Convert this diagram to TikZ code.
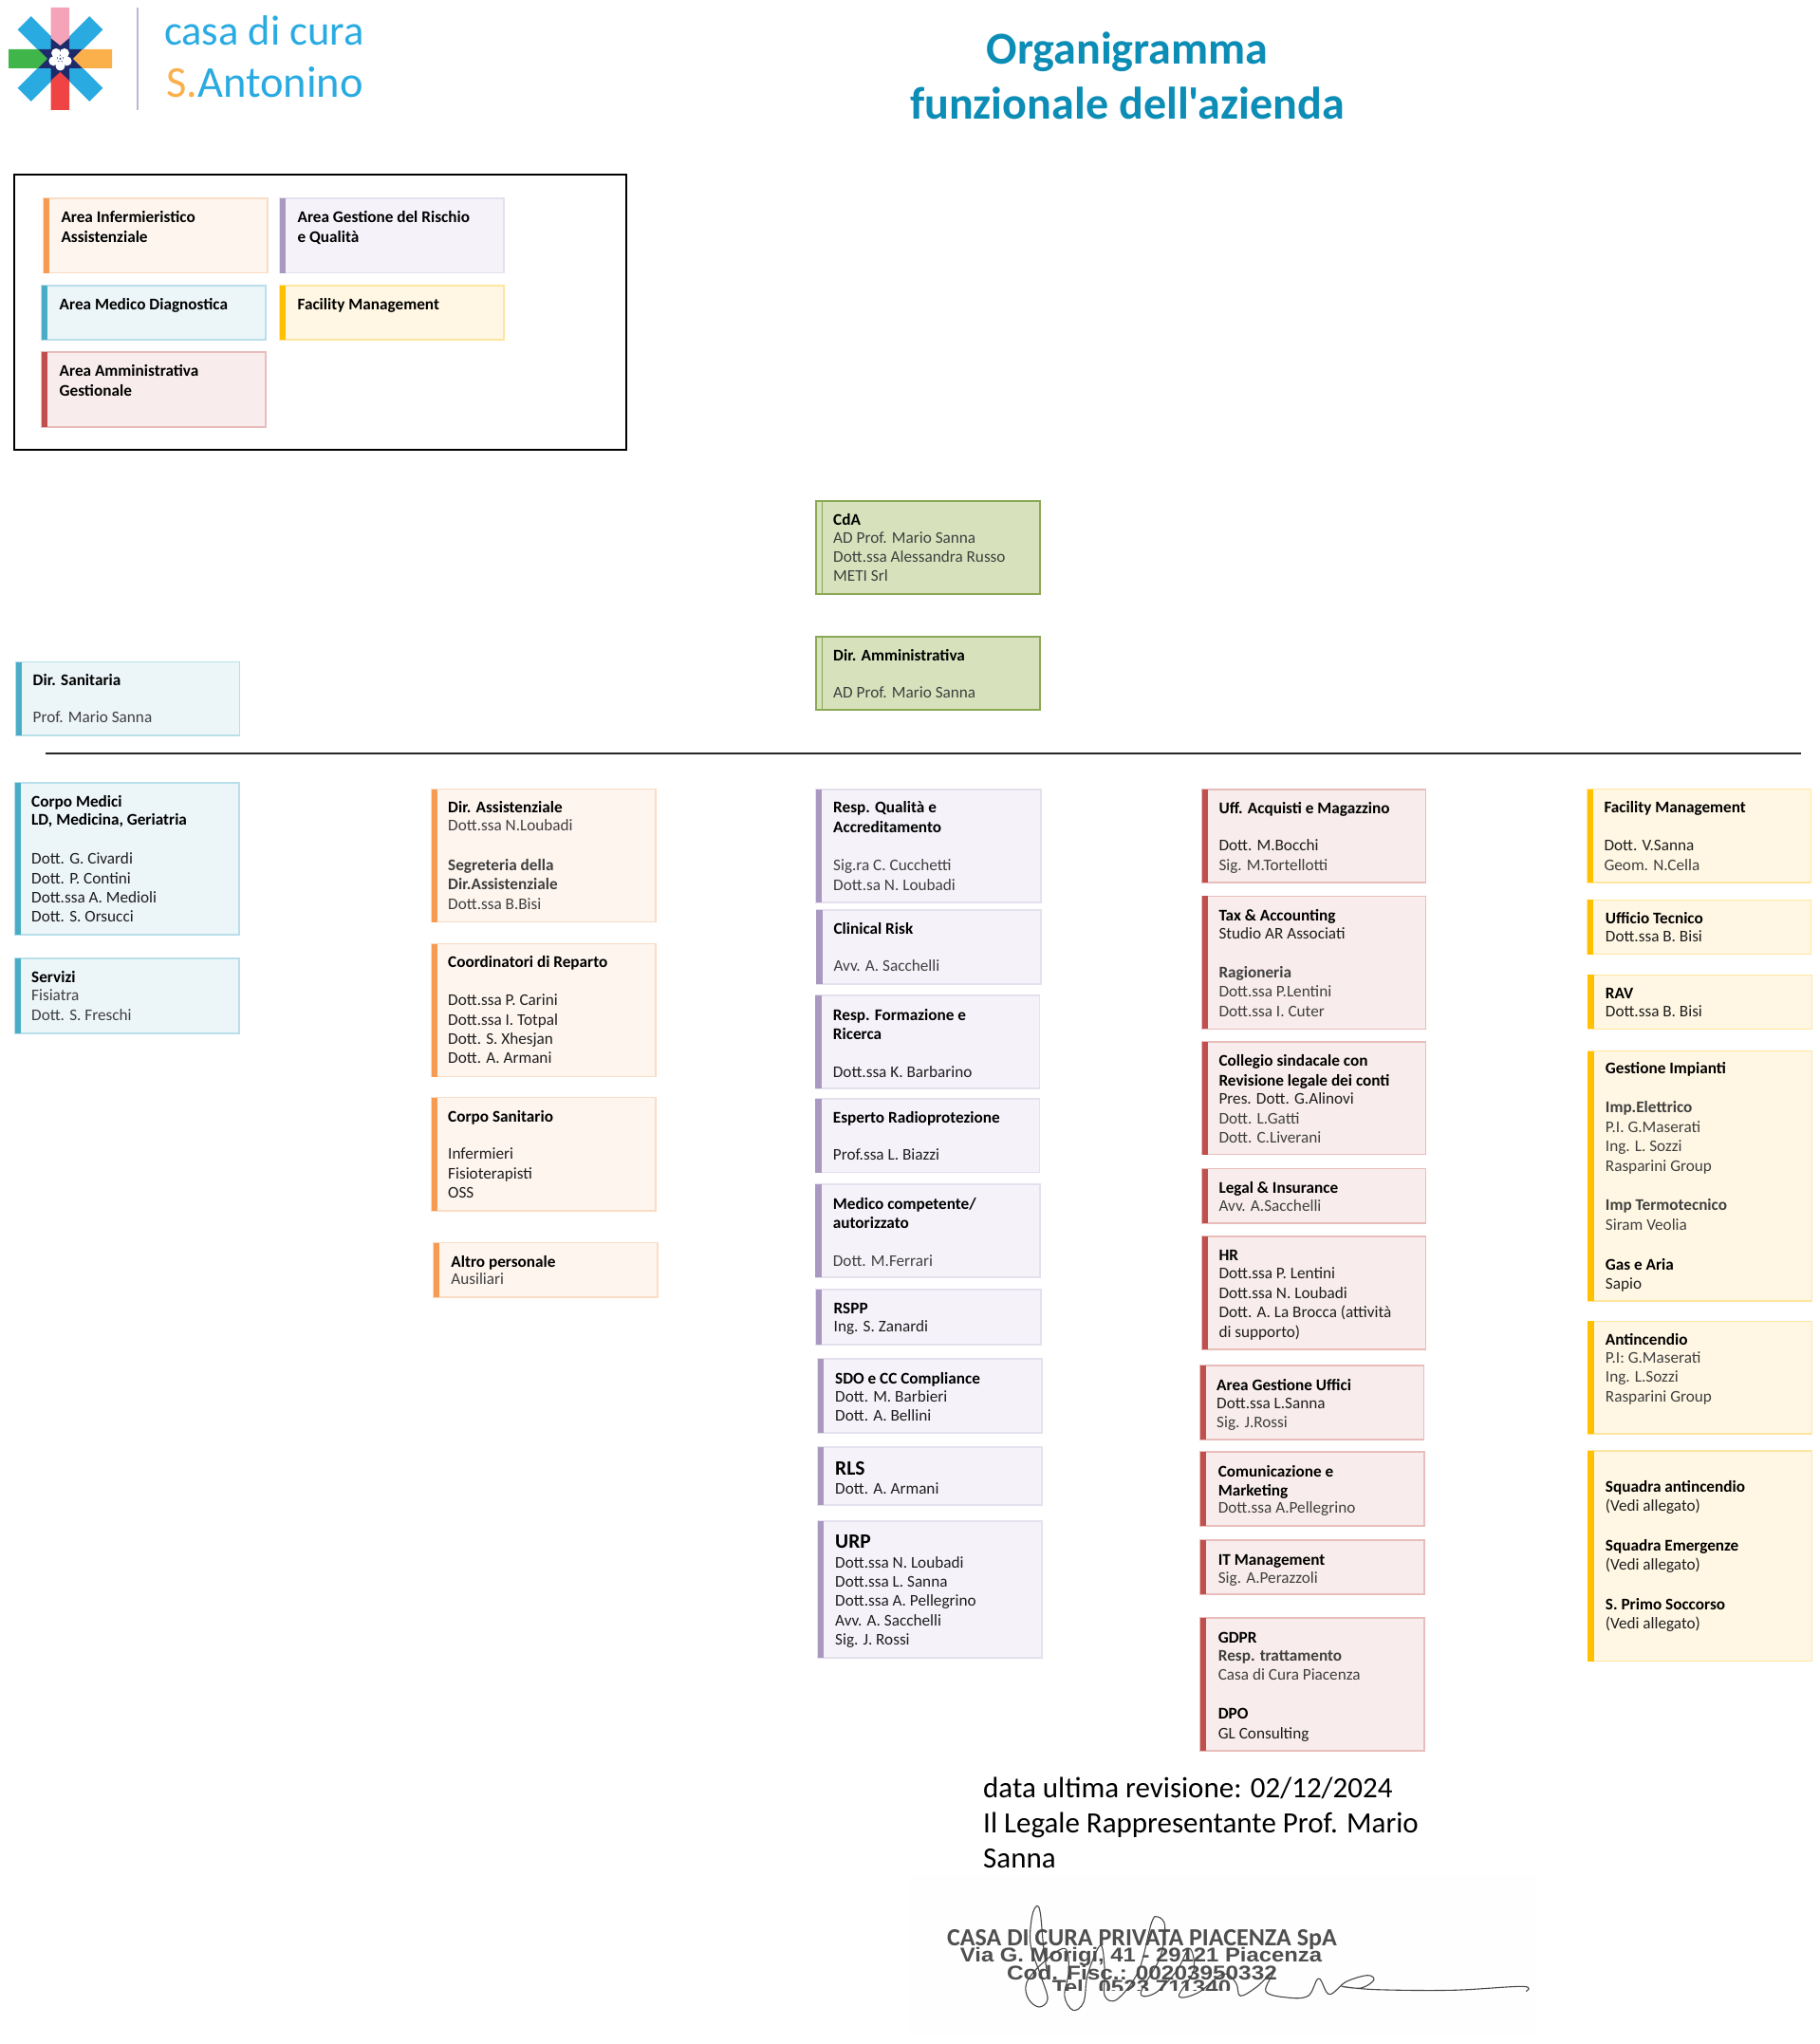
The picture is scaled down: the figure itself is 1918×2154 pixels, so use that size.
\documentclass[tikz,border=0pt]{standalone}
\usepackage{graphicx}
\usepackage{fontspec}
\setmainfont{Carlito}
\newfontfamily\titlefont{Carlito}
\usetikzlibrary{fit}
\definecolor{bluefill}{HTML}{ECF5F8}\definecolor{blueedge}{HTML}{B9DFEA}\definecolor{bluebar}{HTML}{4BACC6}
\definecolor{orangefill}{HTML}{FDF5EE}\definecolor{orangeedge}{HTML}{FBDCC4}\definecolor{orangebar}{HTML}{F79B52}
\definecolor{purplefill}{HTML}{F5F3F9}\definecolor{purpleedge}{HTML}{E5E0EE}\definecolor{purplebar}{HTML}{A999C1}
\definecolor{redfill}{HTML}{F8ECEC}\definecolor{rededge}{HTML}{E8BDBB}\definecolor{redbar}{HTML}{C0504D}
\definecolor{yellowfill}{HTML}{FFF7E3}\definecolor{yellowedge}{HTML}{FFE69E}\definecolor{yellowbar}{HTML}{FFC000}
\definecolor{greenfill}{HTML}{D7E2BC}\definecolor{greenedge}{HTML}{8BA855}
\definecolor{titleblue}{HTML}{0C8DB6}\definecolor{logoblue}{HTML}{29ABE2}\definecolor{logoorange}{HTML}{FBB04C}
\definecolor{logopink}{HTML}{F4A3B8}\definecolor{logored}{HTML}{F04343}\definecolor{logogreen}{HTML}{3FB54A}
\definecolor{logonavy}{HTML}{1F2A6B}\definecolor{logoline}{HTML}{B9B9D2}
\definecolor{bodygray}{HTML}{404040}\definecolor{bodydark}{HTML}{1E1E1E}\definecolor{stampgray}{HTML}{4F4F4F}\definecolor{stampbg}{HTML}{FEFEFE}
\newcommand\B[1]{\textbf{\textcolor{black}{#1}}}
\newcommand\BG[1]{\textbf{\textcolor{bodygray}{#1}}}
\newcommand\D[1]{\textcolor{bodydark}{#1}}
\newcommand\BIG[1]{{\fontsize{21.5}{20.4}\selectfont\textbf{\textcolor{black}{#1}}}}
\tikzset{
  bluebx/.style={draw=blueedge,fill=bluefill,line width=1.4pt},
  orangebx/.style={draw=orangeedge,fill=orangefill,line width=1.4pt},
  purplebx/.style={draw=purpleedge,fill=purplefill,line width=1.4pt},
  redbx/.style={draw=rededge,fill=redfill,line width=1.4pt},
  yellowbx/.style={draw=yellowedge,fill=yellowfill,line width=1.4pt},
  greenbx/.style={draw=greenedge,fill=greenfill,line width=1.4pt},
  bluebr/.style={fill=bluebar},orangebr/.style={fill=orangebar},purplebr/.style={fill=purplebar},
  redbr/.style={fill=redbar},yellowbr/.style={fill=yellowbar},
  greenbr/.style={fill=greenfill,draw=greenedge,line width=1.4pt},
  orgtext/.style={anchor=north west,inner sep=0pt,yshift=8.1pt,align=left,font=\fontsize{17.2}{20.4}\selectfont,text=bodygray},
  stampline/.style={inner sep=0pt,text=stampgray},
  sig/.style={draw=black!72,line width=1.1pt,line join=round,line cap=round},
}
\newcommand\orgbox[6]{%
  \coordinate (#1a) at (#3);\coordinate (#1b) at (#4);
  \node[fit=(#1a)(#1b),inner sep=0pt,outer sep=0pt,#2bx] (#1) {};
  \path[#2br] (#1.north west) rectangle ([xshift=6.3pt]#1.south west);
  \node[orgtext] (#1t) at (#5) {\rule{0pt}{14pt}#6};
}
\begin{document}
\begin{tikzpicture}[x=1pt,y=-1pt]
\useasboundingbox (0,0) rectangle (1918,2154);
\fill[white] (0,0) rectangle (1918,2154);
% logo
\begin{scope}
\foreach \a in {45,135,225,315}{\fill[logoblue,rotate around={\a:(63.5,62)}] (63.5,52) rectangle (117,72);}
\fill[logonavy] (53.5,38)--(73,38)--(73,52)--(87,52)--(87,72)--(73,72)--(73,87)--(53.5,87)--(53.5,72)--(40,72)--(40,52)--(53.5,52)--cycle;
\fill[logopink] (53.5,8)--(73,8)--(73,40)--(63.5,48)--(53.5,40)--cycle;
\fill[logored] (53.5,116)--(73,116)--(73,85)--(63.5,76)--(53.5,85)--cycle;
\fill[logogreen] (9,52)--(40,52)--(50,62)--(40,72)--(9,72)--cycle;
\fill[logoorange] (118,52)--(87,52)--(77,62)--(87,72)--(118,72)--cycle;
\foreach \a in {90,162,234,306,18}{\fill[white] (63.5,62)++(\a:7.5) circle (5);}
\fill[white] (63.5,62) circle (3);
\fill[logonavy] (63.5,62) circle (1);
\draw[logoline,line width=1.5pt] (145,8)--(145,116);
\end{scope}
\node[anchor=base west,inner sep=0pt,text=logoblue,font=\fontsize{44.5}{44.5}\selectfont] (logoa) at (173,47.5) {casa di cura};
\node[anchor=base west,inner sep=0pt,text=logoblue,font=\fontsize{46.5}{46.5}\selectfont] (logob) at (175,102.5) {\textcolor{logoorange}{S.}Antonino};
% title
\node[anchor=north,inner sep=0pt,align=center,text=titleblue,font=\titlefont\bfseries\fontsize{48.1}{58}\selectfont] (title) at (1188,31.5) {\rule{0pt}{36pt}Organigramma\\funzionale dell'azienda};
% legend
\coordinate (lega) at (15,184);\coordinate (legb) at (660,474);
\node[fit=(lega)(legb),inner sep=0pt,outer sep=0pt,draw=black,line width=1.2pt] (legend) {};
\orgbox{la}{orange}{46,209}{282,287.5}{64.3,228.7}{\B{Area Infermieristico}\\\B{Assistenziale}}
\orgbox{lb}{purple}{295,209}{531,287.5}{313.4,228.7}{\B{Area Gestione del Rischio}\\\B{e Qualità}}
\orgbox{lc}{blue}{44,301}{280,358}{62.5,320.7}{\B{Area Medico Diagnostica}}
\orgbox{ld}{yellow}{295,301}{531,358}{313.4,320.7}{\B{Facility Management}}
\orgbox{le}{red}{44,371}{280,450}{62.5,390.7}{\B{Area Amministrativa}\\\B{Gestionale}}
% top boxes
\orgbox{cda}{green}{860,528}{1096,626}{878,547}{\B{CdA}\\[-1.5pt]AD Prof. Mario Sanna\\Dott.ssa Alessandra Russo\\METI Srl}
\orgbox{dam}{green}{860,671}{1096,748}{878,690}{\B{Dir. Amministrativa}\\~\\[-1.8pt]AD Prof. Mario Sanna}
\orgbox{dsa}{blue}{16.5,697.5}{252.5,775}{34.5,716.3}{\B{Dir. Sanitaria}\\~\\[-1.8pt]Prof. Mario Sanna}
\coordinate (rulea) at (48,794);\coordinate (ruleb) at (1898,794);
\draw[draw=black!85,line width=1.1pt] (rulea)--(ruleb);
% column 1
\orgbox{cm}{blue}{15.5,825}{252,985}{33,844.4}{\B{Corpo Medici}\\[-1pt]\B{LD, Medicina, Geriatria}\\~\\\D{Dott. G. Civardi}\\\D{Dott. P. Contini}\\\D{Dott.ssa A. Medioli}\\\D{Dott. S. Orsucci}}
\orgbox{se}{blue}{15.5,1010}{252,1089}{33,1029.4}{\B{Servizi}\\[-1pt]Fisiatra\\Dott. S. Freschi}
% column 2
\orgbox{da}{orange}{455,831.5}{691,971.5}{472,850.3}{\B{Dir. Assistenziale}\\[-1pt]Dott.ssa N.Loubadi\\~\\[0.6pt]\BG{Segreteria della}\\\BG{Dir.Assistenziale}\\Dott.ssa B.Bisi}
\orgbox{co}{orange}{455,994.5}{691,1134.5}{472,1013.8}{\B{Coordinatori di Reparto}\\~\\[-1pt]\D{Dott.ssa P. Carini}\\\D{Dott.ssa I. Totpal}\\\D{Dott. S. Xhesjan}\\\D{Dott. A. Armani}}
\orgbox{cs}{orange}{455,1156.6}{691,1276}{472,1175.9}{\B{Corpo Sanitario}\\~\\[-1pt]\D{Infermieri}\\\D{Fisioterapisti}\\\D{OSS}}
\orgbox{ap}{orange}{457,1309.5}{693,1367}{475.2,1329.2}{\B{Altro personale}\\[-2pt]Ausiliari}
% column 3
\orgbox{rq}{purple}{860,832}{1097,951}{878,850.7}{\B{Resp. Qualità e}\\[0.6pt]\B{Accreditamento}\\~\\[-1pt]Sig.ra C. Cucchetti\\Dott.sa N. Loubadi}
\orgbox{cr}{purple}{860.3,959}{1097,1037}{878.3,978}{\B{Clinical Risk}\\~\\[-1.8pt]Avv. A. Sacchelli}
\orgbox{rf}{purple}{859.3,1049}{1095.7,1147}{877.7,1069}{\B{Resp. Formazione e}\\\B{Ricerca}\\~\\[-1pt]\D{Dott.ssa K. Barbarino}}
\orgbox{er}{purple}{859.3,1158}{1095.7,1235.7}{877.7,1177.7}{\B{Esperto Radioprotezione}\\~\\[-1.8pt]\D{Prof.ssa L. Biazzi}}
\orgbox{mc}{purple}{859.3,1248}{1096,1346}{877.7,1268}{\B{Medico competente/}\\\B{autorizzato}\\~\\[-1pt]Dott. M.Ferrari}
\orgbox{rs}{purple}{860,1359}{1097,1417}{878.5,1378}{\B{RSPP}\\[-1pt]\D{Ing. S. Zanardi}}
\orgbox{sd}{purple}{862,1432}{1098,1510}{880,1452}{\B{SDO e CC Compliance}\\[-1pt]\D{Dott. M. Barbieri}\\\D{Dott. A. Bellini}}
\orgbox{rl}{purple}{862,1525}{1098,1586}{880,1548}{\BIG{RLS}\\\D{Dott. A. Armani}}
\orgbox{ur}{purple}{862,1603}{1098,1747}{880,1625.5}{\BIG{URP}\\\D{Dott.ssa N. Loubadi}\\\D{Dott.ssa L. Sanna}\\\D{Dott.ssa A. Pellegrino}\\\D{Avv. A. Sacchelli}\\\D{Sig. J. Rossi}}
% column 4
\orgbox{ua}{red}{1266.7,832}{1502.7,930}{1284.3,851}{\B{Uff. Acquisti e Magazzino}\\~\\[-1pt]\D{Dott. M.Bocchi}\\Sig. M.Tortellotti}
\orgbox{ta}{red}{1266.7,944.3}{1502.7,1084.3}{1284.3,964}{\B{Tax \& Accounting}\\[-1pt]\D{Studio AR Associati}\\~\\\BG{Ragioneria}\\Dott.ssa P.Lentini\\Dott.ssa I. Cuter}
\orgbox{cl}{red}{1266.7,1098}{1502.7,1216.7}{1284.3,1117.7}{\B{Collegio sindacale con}\\\B{Revisione legale dei conti}\\[-1pt]\D{Pres. Dott. G.Alinovi}\\Dott. L.Gatti\\Dott. C.Liverani}
\orgbox{li}{red}{1266.7,1231.7}{1502.7,1289}{1284.3,1251.7}{\B{Legal \& Insurance}\\[-2pt]Avv. A.Sacchelli}
\orgbox{hr}{red}{1266.7,1303}{1502.7,1422}{1284.3,1322.3}{\B{HR}\\[-1pt]\D{Dott.ssa P. Lentini}\\\D{Dott.ssa N. Loubadi}\\\D{Dott. A. La Brocca (attività}\\\D{di supporto)}}
\orgbox{ag}{red}{1265,1439}{1500.5,1517}{1282,1459}{\B{Area Gestione Uffici}\\[-1pt]\D{Dott.ssa L.Sanna}\\Sig. J.Rossi}
\orgbox{cmk}{red}{1265,1530}{1501,1608}{1283.6,1550}{\B{Comunicazione e}\\\B{Marketing}\\[-2pt]Dott.ssa A.Pellegrino}
\orgbox{it}{red}{1265,1623}{1501,1680}{1283.6,1643}{\B{IT Management}\\[-1pt]Sig. A.Perazzoli}
\orgbox{gd}{red}{1265,1705}{1501,1845}{1283.6,1725}{\B{GDPR}\\[-1pt]\BG{Resp. trattamento}\\Casa di Cura Piacenza\\~\\\B{DPO}\\\D{GL Consulting}}
% column 5
\orgbox{fm}{yellow}{1672.7,831.7}{1908.7,930}{1690.3,850.7}{\B{Facility Management}\\~\\[-1pt]\D{Dott. V.Sanna}\\[0.6pt]Geom. N.Cella}
\orgbox{ut}{yellow}{1672.7,948.3}{1908.7,1005.7}{1691.7,967.7}{\B{Ufficio Tecnico}\\[-1.4pt]\D{Dott.ssa B. Bisi}}
\orgbox{rv}{yellow}{1673.3,1027.3}{1909.7,1084.3}{1691.7,1046.7}{\B{RAV}\\[-1.4pt]\D{Dott.ssa B. Bisi}}
\orgbox{gi}{yellow}{1673.3,1107.6}{1909.7,1371}{1691.7,1125.8}{\B{Gestione Impianti}\\~\\[-0.4pt]\BG{Imp.Elettrico}\\[0.3pt]P.I. G.Maserati\\[0.4pt]Ing. L. Sozzi\\[0.3pt]Rasparini Group\\~\\[0.4pt]\BG{Imp Termotecnico}\\[0.3pt]Siram Veolia\\~\\[0.8pt]\B{Gas e Aria}\\[0.3pt]\D{Sapio}}
\orgbox{an}{yellow}{1673.3,1392.4}{1909.7,1511}{1691.7,1411}{\B{Antincendio}\\[-1pt]P.I: G.Maserati\\Ing. L.Sozzi\\[0.4pt]Rasparini Group}
\orgbox{sq}{yellow}{1673.3,1528.8}{1909.7,1750.6}{1691.7,1566.4}{\B{Squadra antincendio}\\\D{(Vedi allegato)}\\~\\[0.8pt]\B{Squadra Emergenze}\\\D{(Vedi allegato)}\\~\\[0.8pt]\B{S. Primo Soccorso}\\\D{(Vedi allegato)}}
% revision text
\node[anchor=north west,inner sep=0pt,align=left,text=black,font=\fontsize{31}{37}\selectfont] (rev) at (1036,1870) {\rule{0pt}{24pt}data ultima revisione: 02/12/2024\\Il Legale Rappresentante Prof. Mario\\Sanna};
% stamp
\fill[stampbg] (959,1975) rectangle (1620,2143);
\node[stampline,font=\bfseries\fontsize{26}{26}\selectfont] (st1) at (1203.5,2044) {CASA DI CURA PRIVATA PIACENZA SpA};
\node[stampline,font=\fontsize{21}{21}\selectfont\fontspec{Liberation Sans}\bfseries] (st2) at (1202.5,2062) {\scalebox{1.135}[1]{Via G. Morigi, 41 - 29121 Piacenza}};
\node[stampline,font=\fontsize{21}{21}\selectfont\fontspec{Liberation Sans}\bfseries] (st3) at (1203.5,2079) {\scalebox{1.16}[1]{Cod. Fisc.: 00203950332}};
\begin{scope}
\clip (1000,2086) rectangle (1400,2097);
\node[stampline,font=\fontsize{21}{21}\selectfont\fontspec{Liberation Sans}\bfseries] (st4) at (1203,2094) {\scalebox{1.15}[1]{Tel. 0523 711340}};
\end{scope}
% signature
\begin{scope}[shift={(950,1850)},xscale=0.4464,yscale=0.3333]
\draw[sig] plot[smooth,tension=0.6] coordinates {(345,700)(335,600)(328,500)(320,475)(308,510)(305,600)(330,700)(345,770)(325,795)(300,770)(295,720)(330,660)(385,610)(395,680)(385,760)(405,805)(430,780)(440,690)(470,600)(480,680)(480,760)(510,770)(560,680)(590,530)(605,510)(622,540)(610,640)(565,750)(600,750)(650,680)(680,610)(690,680)(655,760)(700,750)(760,690)(790,720)(800,760)(840,730)(880,680)(860,745)(910,765)(960,760)(985,705)(1010,755)(1050,715)(1100,695)(1115,710)(1085,735)(1040,730)(1120,740)(1300,742)(1465,730)(1475,745)};
\end{scope}
\end{tikzpicture}
\end{document}
